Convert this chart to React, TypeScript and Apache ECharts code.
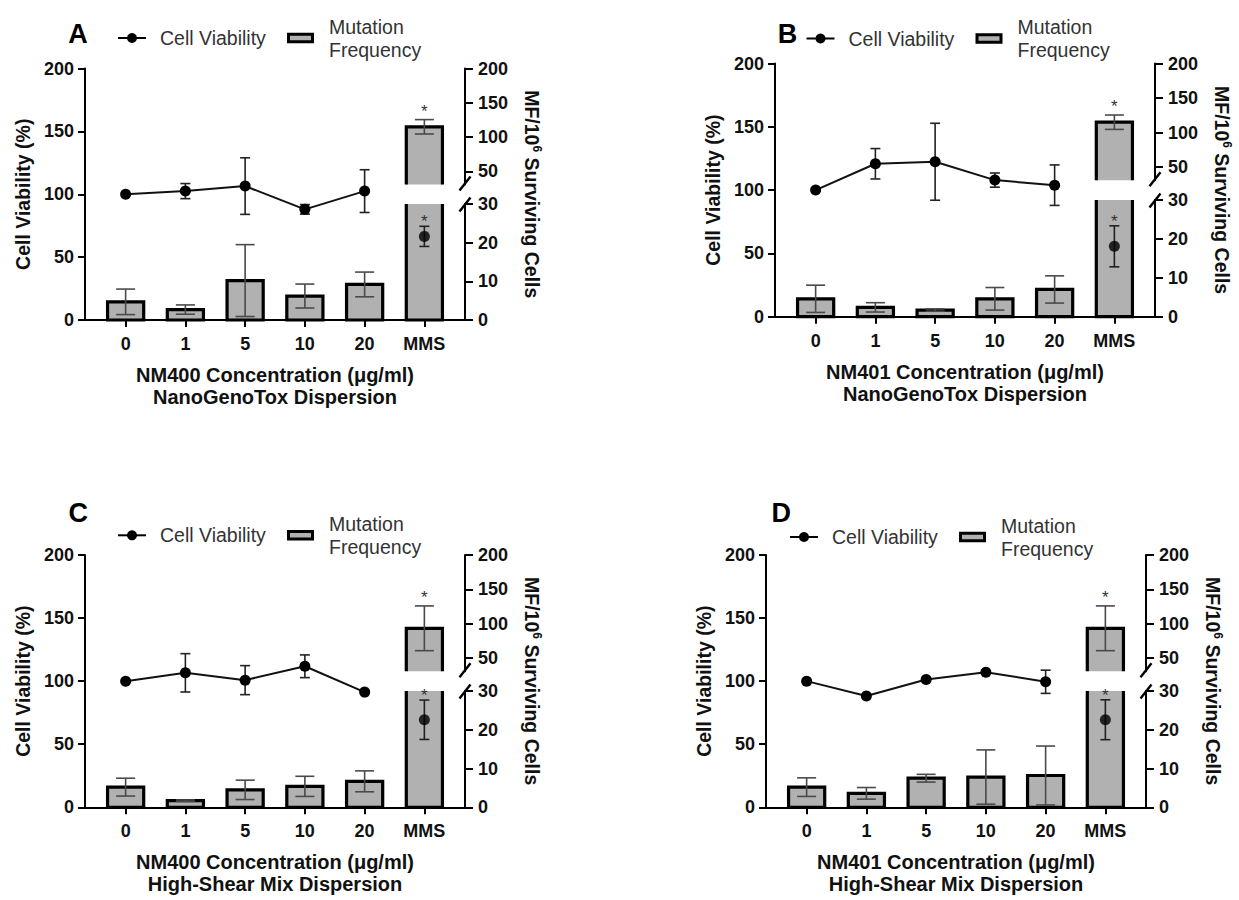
import React, { useEffect, useRef } from 'react';
import * as echarts from 'echarts';

// ---------- data ----------
const categories = ['0', '1', '5', '10', '20', 'MMS'];
const starFlags = [0, 0, 0, 0, 0, 1];
const leftTicks = [0, 50, 100, 150, 200];
const rightLowTicks = [0, 10, 20, 30];
const rightHighTicks = [50, 100, 150, 200];

const viabilityA = [100, 102.5, 106.5, 88, 102.5, 66.5];
const viabilityErrA = [0, 6, 22.5, 3.8, 17, 8];
const mfA = [4.7, 2.7, 10.2, 6.2, 9.2, 115];
const mfErrA = [3.3, 1.2, 9.3, 3.1, 3.2, 10.5];

const viabilityB = [100, 120.8, 122.4, 107.9, 103.9, 55.6];
const viabilityErrB = [0, 12, 30.4, 5.6, 16, 16.2];
const mfB = [4.6, 2.4, 1.7, 4.6, 7.0, 115];
const mfErrB = [3.5, 1.2, 0.3, 2.9, 3.5, 10.4];

const viabilityC = [100, 106.6, 100.8, 111.8, 91.3, 69.4];
const viabilityErrC = [0, 15.2, 11.5, 9, 0, 15.6];
const mfC = [5.2, 1.7, 4.5, 5.4, 6.7, 93.5];
const mfErrC = [2.3, 0.2, 2.5, 2.6, 2.7, 32.5];

const viabilityD = [100, 88.2, 101.3, 107.1, 99.5, 69.4];
const viabilityErrD = [0, 0, 1.5, 0, 9.2, 15.8];
const mfD = [5.2, 3.6, 7.5, 7.8, 8.2, 93.5];
const mfErrD = [2.4, 1.5, 1.0, 7.0, 7.6, 32.5];

const xTitles = [
  'NM400 Concentration (μg/ml)\nNanoGenoTox Dispersion',
  'NM401 Concentration (μg/ml)\nNanoGenoTox Dispersion',
  'NM400 Concentration (μg/ml)\nHigh-Shear Mix Dispersion',
  'NM401 Concentration (μg/ml)\nHigh-Shear Mix Dispersion',
];
const panelLetters = ['A', 'B', 'C', 'D'];
const leftTitle = 'Cell Viability (%)';
const rightTitle = 'MF/10{sup|6} Surviving Cells';
const legendNames = ['Cell Viability', 'Mutation\nFrequency'];

const panelData = [
  { v: viabilityA, ve: viabilityErrA, mf: mfA, mfe: mfErrA },
  { v: viabilityB, ve: viabilityErrB, mf: mfB, mfe: mfErrB },
  { v: viabilityC, ve: viabilityErrC, mf: mfC, mfe: mfErrC },
  { v: viabilityD, ve: viabilityErrD, mf: mfD, mfe: mfErrD },
];

// ---------- layout ----------
const layouts = [
  { left: 85, right: 465, top: 68.5, bottom: 320, letter: [78, 33.5], legend: [118, 38] },
  { left: 775, right: 1155, top: 63.5, bottom: 316.7, letter: [787.6, 33.5], legend: [806.5, 38.5] },
  { left: 85, right: 465, top: 555, bottom: 807.3, letter: [78.3, 512.5], legend: [118, 535.3] },
  { left: 766, right: 1146, top: 555, bottom: 807.3, letter: [781.3, 513], legend: [790, 537] },
];

const FONT = '"Liberation Sans", Arial, Helvetica, sans-serif';
const X_MIN = -0.68;
const X_MAX = 5.68;
const SEG = 0.461;
const HIGH_MIN = 31;
const BAR_RATIO = 0.605;
const BAR_FILL = '#b1b1b1';
const catIdx = categories.map((_, i) => i);

function barRender(params: any, api: any) {
  const i = api.value(0);
  const v = api.value(1);
  const cs = params.coordSys;
  const pTop = api.coord([i, v]);
  const pBase = api.coord([i, 0]);
  const cx = pTop[0];
  const yTop = pTop[1];
  const yBase = pBase[1];
  const w = api.size([1, 0])[0] * BAR_RATIO;
  const x0 = cx - w / 2;
  const x1 = cx + w / 2;
  const top = Math.max(yTop, cs.y);
  const bot = Math.min(yBase, cs.y + cs.height);
  if (bot - top < 0.5) return { type: 'group', children: [] };
  const topVis = yTop >= cs.y - 0.5;
  const botVis = yBase <= cs.y + cs.height + 0.5;
  const stroke = { stroke: '#000', lineWidth: 3.2, fill: 'none', lineJoin: 'miter' };
  const children: any[] = [
    { type: 'rect', shape: { x: x0, y: top, width: w, height: bot - top }, style: { fill: BAR_FILL } },
  ];
  if (topVis && botVis) {
    children.push({ type: 'rect', shape: { x: x0, y: top, width: w, height: bot - top }, style: stroke });
  } else if (topVis) {
    children.push({ type: 'polyline', shape: { points: [[x0, bot], [x0, top], [x1, top], [x1, bot]] }, style: stroke });
  } else if (botVis) {
    children.push({ type: 'polyline', shape: { points: [[x0, top], [x0, bot], [x1, bot], [x1, top]] }, style: stroke });
  } else {
    children.push({ type: 'line', shape: { x1: x0, y1: top, x2: x0, y2: bot }, style: stroke });
    children.push({ type: 'line', shape: { x1: x1, y1: top, x2: x1, y2: bot }, style: stroke });
  }
  return { type: 'group', children };
}

function makeErrRender(capW: number, color: string, starGap: number) {
  return function (params: any, api: any) {
    const i = api.value(0);
    const lo = api.value(1);
    const hi = api.value(2);
    const star = api.value(3);
    const cs = params.coordSys;
    const pHi = api.coord([i, hi]);
    const pLo = api.coord([i, lo]);
    const cx = pHi[0];
    const yHi = pHi[1];
    const yLo = pLo[1];
    const top = cs.y;
    const bot = cs.y + cs.height;
    const children: any[] = [];
    const st = { stroke: color, lineWidth: 1.6 };
    if (hi - lo > 0.05 && !(yLo < top || yHi > bot)) {
      const a = Math.max(yHi, top);
      const b = Math.min(yLo, bot);
      children.push({ type: 'line', shape: { x1: cx, y1: a, x2: cx, y2: b }, style: st });
      if (yHi >= top) children.push({ type: 'line', shape: { x1: cx - capW / 2, y1: yHi, x2: cx + capW / 2, y2: yHi }, style: st });
      if (yLo <= bot) children.push({ type: 'line', shape: { x1: cx - capW / 2, y1: yLo, x2: cx + capW / 2, y2: yLo }, style: st });
    }
    if (star && yHi >= top && yHi <= bot) {
      children.push({
        type: 'text',
        x: cx,
        y: yHi - starGap + 3.5,
        style: { text: '*', fontSize: 17, fontFamily: FONT, fill: '#333', align: 'center', verticalAlign: 'middle' },
      });
    }
    return { type: 'group', children };
  };
}

function makeBreakRender(atBottom: boolean) {
  return function (params: any) {
    const cs = params.coordSys;
    const x = cs.x + cs.width;
    const y = atBottom ? cs.y + cs.height - 1 : cs.y + 0.5;
    return {
      type: 'line',
      shape: { x1: x - 5.5, y1: y + 7, x2: x + 5.5, y2: y - 7 },
      style: { stroke: '#000', lineWidth: 2.4 },
    };
  };
}

const tickLabelStyle = { fontSize: 18, fontWeight: 'bold', color: '#111', fontFamily: FONT };
const titleStyle = { fontSize: 19.5, fontWeight: 'bold', color: '#111', fontFamily: FONT };
const axisLineStyle = { show: true, onZero: false, lineStyle: { color: '#000', width: 2 } };

function buildOption() {
  const grid: any[] = [];
  const xAxis: any[] = [];
  const yAxis: any[] = [];
  const series: any[] = [];
  const graphic: any[] = [];

  layouts.forEach((p, k) => {
    const d = panelData[k];
    const W = p.right - p.left;
    const H = p.bottom - p.top;
    const seg = H * SEG;
    const g0 = grid.length;
    const gridBase = { containLabel: false, outerBoundsMode: 'none' };
    grid.push({ ...gridBase, left: p.left, top: p.top, width: W, height: H });
    grid.push({ ...gridBase, left: p.left, top: p.bottom - seg, width: W, height: seg });
    grid.push({ ...gridBase, left: p.left, top: p.top, width: W, height: seg });

    const x0 = xAxis.length;
    xAxis.push({
      gridIndex: g0,
      type: 'value',
      min: X_MIN,
      max: X_MAX,
      axisLine: axisLineStyle,
      axisTick: { show: true, customValues: catIdx, length: 7, lineStyle: { color: '#000', width: 2 } },
      axisLabel: {
        customValues: catIdx,
        formatter: (v: number) => categories[Math.round(v)],
        margin: 15,
        ...tickLabelStyle,
      },
      splitLine: { show: false },
      name: xTitles[k],
      nameLocation: 'middle',
      nameGap: 44,
      nameMoveOverlap: false,
      nameTextStyle: { ...titleStyle, fontSize: 20, lineHeight: 22 },
    });
    xAxis.push({ gridIndex: g0 + 1, type: 'value', min: X_MIN, max: X_MAX, show: false });
    xAxis.push({ gridIndex: g0 + 2, type: 'value', min: X_MIN, max: X_MAX, show: false });

    const y0 = yAxis.length;
    yAxis.push({
      gridIndex: g0,
      type: 'value',
      position: 'left',
      min: leftTicks[0],
      max: leftTicks[leftTicks.length - 1],
      interval: leftTicks[1] - leftTicks[0],
      axisLine: axisLineStyle,
      axisTick: { show: true, length: 7, lineStyle: { color: '#000', width: 2 } },
      axisLabel: { margin: 11, ...tickLabelStyle },
      splitLine: { show: false },
      name: leftTitle,
      nameLocation: 'middle',
      nameGap: 52,
      nameMoveOverlap: false,
      nameTextStyle: titleStyle,
    });
    yAxis.push({
      gridIndex: g0,
      type: 'value',
      position: 'right',
      min: 0,
      max: 200,
      axisLine: { show: false },
      axisTick: { show: false },
      axisLabel: { show: false },
      splitLine: { show: false },
      name: rightTitle,
      nameLocation: 'middle',
      nameRotate: -90,
      nameGap: 56,
      nameMoveOverlap: false,
      nameTextStyle: {
        ...titleStyle,
        lineHeight: 22,
        rich: {
          sup: { fontSize: 12, fontWeight: 'bold', color: '#111', fontFamily: FONT, lineHeight: 12, verticalAlign: 'top' },
        },
      },
    });
    yAxis.push({
      gridIndex: g0 + 1,
      type: 'value',
      position: 'right',
      min: rightLowTicks[0],
      max: rightLowTicks[rightLowTicks.length - 1],
      interval: rightLowTicks[1] - rightLowTicks[0],
      axisLine: axisLineStyle,
      axisTick: { show: true, length: 8, lineStyle: { color: '#000', width: 2 } },
      axisLabel: { margin: 13, ...tickLabelStyle },
      splitLine: { show: false },
    });
    yAxis.push({
      gridIndex: g0 + 2,
      type: 'value',
      position: 'right',
      min: HIGH_MIN,
      max: rightHighTicks[rightHighTicks.length - 1],
      axisLine: axisLineStyle,
      axisTick: { show: true, customValues: rightHighTicks, length: 8, lineStyle: { color: '#000', width: 2 } },
      axisLabel: { customValues: rightHighTicks, margin: 13, ...tickLabelStyle },
      splitLine: { show: false },
    });

    const barData = d.mf.map((v, i) => [i, v]);
    const mfErrData = d.mf.map((v, i) => [i, v - d.mfe[i], v + d.mfe[i], starFlags[i]]);
    const vErrData = d.v.map((v, i) => [i, v - d.ve[i], v + d.ve[i], starFlags[i]]);

    [1, 2].forEach((s) => {
      series.push({
        type: 'custom',
        name: 'Mutation Frequency',
        xAxisIndex: x0 + s,
        yAxisIndex: y0 + s + 1,
        data: barData,
        encode: { x: 0, y: 1 },
        renderItem: barRender,
        z: 2,
        silent: true,
      });
      series.push({
        type: 'custom',
        name: 'Mutation Frequency error',
        xAxisIndex: x0 + s,
        yAxisIndex: y0 + s + 1,
        data: mfErrData,
        encode: { x: 0, y: [1, 2] },
        renderItem: makeErrRender(19, '#4a4a4a', 12),
        z: 3,
        silent: true,
      });
      series.push({
        type: 'custom',
        name: 'axis break',
        xAxisIndex: x0 + s,
        yAxisIndex: y0 + s + 1,
        data: [[0, 0]],
        renderItem: makeBreakRender(s === 2),
        z: 6,
        silent: true,
      });
    });

    series.push({
      type: 'custom',
      name: 'Cell Viability error',
      xAxisIndex: x0,
      yAxisIndex: y0,
      data: vErrData,
      encode: { x: 0, y: [1, 2] },
      renderItem: makeErrRender(10, '#222', 8),
      z: 4,
      silent: true,
    });
    series.push({
      type: 'line',
      name: 'Cell Viability',
      xAxisIndex: x0,
      yAxisIndex: y0,
      data: d.v.slice(0, 5).map((v, i) => [i, v]),
      symbol: 'circle',
      symbolSize: 11,
      itemStyle: { color: '#000' },
      lineStyle: { color: '#111', width: 2 },
      z: 5,
      silent: true,
    });
    series.push({
      type: 'scatter',
      name: 'Cell Viability',
      xAxisIndex: x0,
      yAxisIndex: y0,
      data: [[5, d.v[5]]],
      symbol: 'circle',
      symbolSize: 11,
      itemStyle: { color: '#000' },
      z: 5,
      silent: true,
    });

    graphic.push({
      type: 'text',
      x: p.letter[0],
      y: p.letter[1],
      style: { text: panelLetters[k], fontSize: 27, fontWeight: 'bold', fontFamily: FONT, fill: '#000', align: 'center', verticalAlign: 'middle' },
    });
    const lx = p.legend[0];
    const ly = p.legend[1];
    graphic.push({ type: 'line', shape: { x1: lx, y1: ly, x2: lx + 28, y2: ly }, style: { stroke: '#000', lineWidth: 2 } });
    graphic.push({ type: 'circle', shape: { cx: lx + 14, cy: ly, r: 5 }, style: { fill: '#000' } });
    graphic.push({
      type: 'text',
      x: lx + 42,
      y: ly,
      style: { text: legendNames[0], fontSize: 19.5, fontFamily: FONT, fill: '#333', align: 'left', verticalAlign: 'middle' },
    });
    graphic.push({
      type: 'rect',
      shape: { x: lx + 170.5, y: ly - 3.8, width: 24, height: 7.6 },
      style: { fill: BAR_FILL, stroke: '#000', lineWidth: 3 },
    });
    graphic.push({
      type: 'text',
      x: lx + 211,
      y: ly,
      style: { text: legendNames[1], fontSize: 19.5, lineHeight: 23, fontFamily: FONT, fill: '#333', align: 'left', verticalAlign: 'middle' },
    });
  });

  return { animation: false, backgroundColor: '#fff', grid, xAxis, yAxis, series, graphic };
}

export default function App() {
  const ref = useRef<HTMLDivElement>(null);
  useEffect(() => {
    if (!ref.current) return;
    const chart = echarts.init(ref.current, undefined, { renderer: 'svg' });
    chart.setOption(buildOption() as any);
    return () => chart.dispose();
  }, []);
  return (
    <div
      ref={ref}
      style={{ position: 'fixed', left: 0, top: 0, width: '1239px', height: '900px', background: '#fff' }}
    />
  );
}
